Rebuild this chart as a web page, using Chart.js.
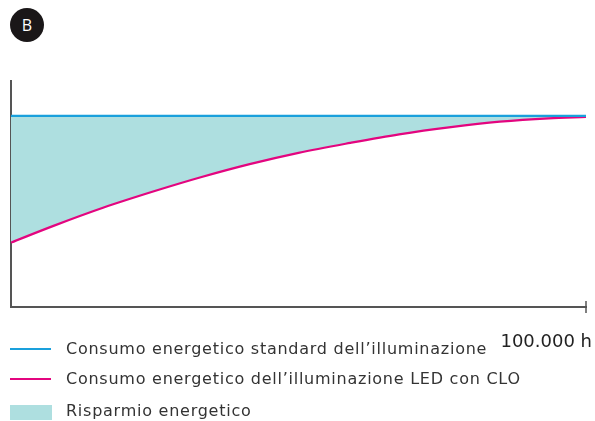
<!DOCTYPE html>
<html>
<head>
<meta charset="utf-8">
<script src="https://cdn.jsdelivr.net/npm/chart.js@4/dist/chart.umd.min.js"></script>
<style>
  html, body { margin: 0; padding: 0; background: #fff; }
  #wrap { position: relative; width: 595px; height: 421px; overflow: hidden; }
  #c { position: absolute; left: 0; top: 0; }
  #badge { position: absolute; left: 10px; top: 8px; width: 34px; height: 34px; border-radius: 50%;
           background: #1a1718; color: #fff; font: 16px "Open Sans", sans-serif; text-align: center; line-height: 34px; }
  .leg { position: absolute; left: 0; font: 16px "DejaVu Sans", sans-serif; color: #333; white-space: nowrap; letter-spacing: 0.75px; }
  .leg .mk { position: absolute; left: 10px; }
  .leg .tx { position: absolute; left: 66px; top: -10px; }
</style>
</head>
<body>
<div id="wrap">
  <canvas id="c" width="595" height="421"></canvas>
  <div id="badge">B</div>
  <div class="leg" style="top:349px"><span class="mk" style="top:-1px;width:41px;height:2.4px;background:#1aa0dc"></span><span class="tx">Consumo energetico standard dell’illuminazione</span></div>
  <div class="leg" style="top:379px"><span class="mk" style="top:-1px;width:41px;height:2.4px;background:#e3057f"></span><span class="tx">Consumo energetico dell’illuminazione LED con CLO</span></div>
  <div class="leg" style="top:411px"><span class="mk" style="top:-6px;width:42px;height:15px;background:#aedfe0"></span><span class="tx">Risparmio energetico</span></div>
</div>
<script>
// hours (thousands) along the horizontal axis
const hours = [0, 7.5, 16, 25, 33, 41.5, 50, 59, 67.5, 76.5, 85, 93.5, 100];
// standard consumption (constant)
const standardValues = [84.6, 84.6, 84.6, 84.6, 84.6, 84.6, 84.6, 84.6, 84.6, 84.6, 84.6, 84.6, 84.6];
// LED with CLO consumption
const ledCloValues = [28.5, 36.0, 43.9, 51.3, 57.4, 63.2, 68.2, 72.6, 76.4, 79.6, 82.0, 83.5, 84.1];
const xTickLabels = { 100: '100.000 h' };

const toPts = (xs, ys) => xs.map((x, i) => ({ x: x, y: ys[i] }));

const endCap = {
  id: 'endCap',
  afterDraw(chart) {
    const xs = chart.scales.x, ys = chart.scales.y;
    const px = xs.getPixelForValue(100), py = ys.getPixelForValue(0);
    const ctx = chart.ctx;
    ctx.save();
    ctx.strokeStyle = '#555';
    ctx.lineWidth = 1.5;
    ctx.beginPath();
    ctx.moveTo(px, py - 6);
    ctx.lineTo(px, py + 6);
    ctx.stroke();
    ctx.restore();
  }
};

new Chart(document.getElementById('c'), {
  type: 'line',
  data: {
    datasets: [
      {
        label: 'Consumo energetico standard dell’illuminazione',
        data: toPts(hours, standardValues),
        borderColor: '#1aa0dc',
        borderWidth: 2.2,
        pointRadius: 0,
        fill: false,
        tension: 0
      },
      {
        label: 'Consumo energetico dell’illuminazione LED con CLO',
        data: toPts(hours, ledCloValues),
        borderColor: '#e3057f',
        borderWidth: 2.2,
        pointRadius: 0,
        fill: { target: 0 },
        backgroundColor: '#aedfe0',
        cubicInterpolationMode: 'monotone'
      }
    ]
  },
  options: {
    responsive: false,
    animation: false,
    devicePixelRatio: 1,
    layout: { padding: { left: 11, right: 9, top: 81, bottom: 0 } },
    plugins: { legend: { display: false }, tooltip: { enabled: false } },
    scales: {
      x: {
        type: 'linear', min: 0, max: 100,
        grid: { display: false, drawTicks: false },
        border: { display: true, color: '#555', width: 2 },
        afterFit(s) { s.height = 421 - 307; s.paddingRight = 0; s.paddingLeft = 0; },
        ticks: {
          autoSkip: false, maxRotation: 0, stepSize: 100, padding: 25,
          align: 'end', labelOffset: 6,
          color: '#222', font: { family: 'DejaVu Sans', size: 18 },
          callback: (v) => xTickLabels[v] || ''
        }
      },
      y: {
        min: 0, max: 100,
        grid: { display: false, drawTicks: false },
        border: { display: true, color: '#555', width: 2 },
        ticks: { display: false },
        afterFit(s) { s.width = 0; }
      }
    }
  },
  plugins: [endCap]
});
</script>
</body>
</html>
